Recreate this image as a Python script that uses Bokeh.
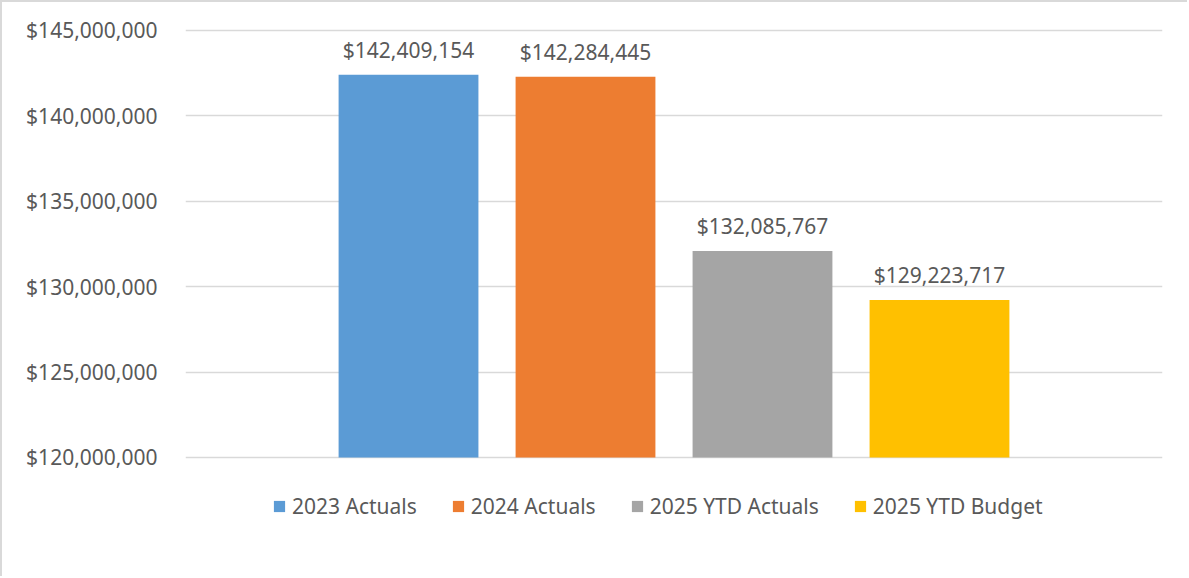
from bokeh.plotting import figure
from bokeh.models import ColumnDataSource, Legend, LegendItem, NumeralTickFormatter, FixedTicker, FactorRange, Range1d
from bokeh.core.properties import value
from bokeh.embed import file_html
from bokeh.resources import INLINE

series = ["2023 Actuals", "2024 Actuals", "2025 YTD Actuals", "2025 YTD Budget"]
values = [142409154, 142284445, 132085767, 129223717]
colors = ["#5B9BD5", "#ED7D31", "#A5A5A5", "#FFC000"]
y_ticks = [120000000, 125000000, 130000000, 135000000, 140000000, 145000000]
y_base = 120000000

labels = ["${:,}".format(v) for v in values]
src = ColumnDataSource(dict(x=series, top=values, color=colors, label=labels))

FONT = "Noto Sans"
TXT = "#595959"
FS = "21px"

# frame extends below the axis base so the legend sits inside it
p = figure(width=1187, height=576, x_range=FactorRange(*series, range_padding=0.38),
           y_range=Range1d(112910000, 145117000),
           output_backend="svg", toolbar_location=None,
           min_border_left=183, min_border_right=27, min_border_top=26, min_border_bottom=0)
p.styles = {"border-top": "2px solid #d9d9d9", "border-left": "2px solid #d9d9d9"}

r = p.vbar(x="x", top="top", bottom=y_base, width=0.79, color="color", source=src, line_color=None)
p.text(x="x", y="top", text="label", source=src, text_align="center", text_baseline="bottom",
       y_offset=-11, text_font=value(FONT), text_font_size=FS, text_color=TXT)

p.xaxis.visible = False
p.xgrid.visible = False
p.ygrid.grid_line_color = "#d9d9d9"
p.ygrid.grid_line_width = 1.5
p.yaxis.ticker = FixedTicker(ticks=y_ticks)
p.yaxis.formatter = NumeralTickFormatter(format="$0,0")
p.yaxis.axis_line_color = None
p.yaxis.major_tick_line_color = None
p.yaxis.minor_tick_line_color = None
p.yaxis.major_label_standoff = 22
p.yaxis.major_label_text_font = FONT
p.yaxis.major_label_text_font_size = FS
p.yaxis.major_label_text_color = TXT
p.outline_line_color = None

items = [LegendItem(label=s, renderers=[r], index=i) for i, s in enumerate(series)]
legend = Legend(items=items, orientation="horizontal", location=(87, 58),
                label_text_font=FONT, label_text_font_size=FS, label_text_color=TXT,
                glyph_width=14, glyph_height=14, label_standoff=6, spacing=34,
                padding=0, margin=0, border_line_color=None, background_fill_alpha=0)
p.add_layout(legend, "center")

open("out.html", "w").write(file_html(p, INLINE))
